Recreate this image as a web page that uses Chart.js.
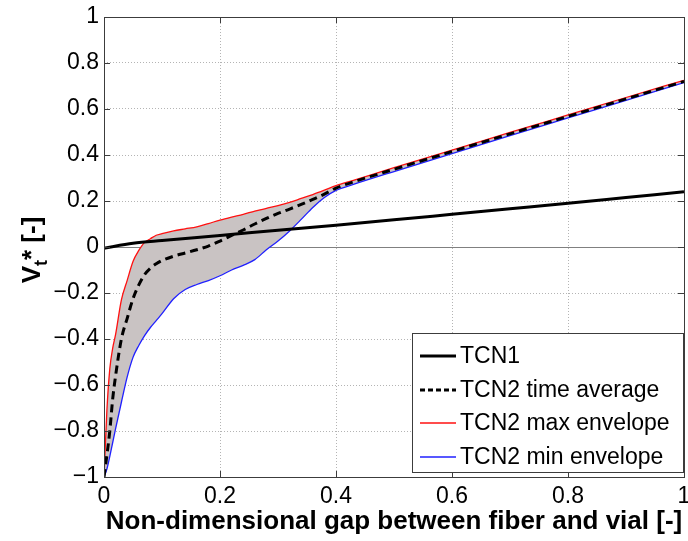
<!DOCTYPE html>
<html>
<head>
<meta charset="utf-8">
<script src="https://cdn.jsdelivr.net/npm/chart.js@4.4.0/dist/chart.umd.min.js"></script>
<style>
html,body{margin:0;padding:0;background:#fff;}
#wrap{width:688px;height:541px;position:relative;}
</style>
</head>
<body>
<div id="wrap"><canvas id="c" width="688" height="541"></canvas></div>
<script>
// ---------- data ----------
const xTickValues = [0, 0.2, 0.4, 0.6, 0.8, 1];
const yTickValues = [-1, -0.8, -0.6, -0.4, -0.2, 0, 0.2, 0.4, 0.6, 0.8, 1];
const seriesNames = ['TCN1', 'TCN2 time average', 'TCN2 max envelope', 'TCN2 min envelope'];
const xTitle = 'Non-dimensional gap between fiber and vial [-]';
const yTitleParts = ['V', 't', '* [-]'];

const tcn1X = [0, 0.05, 0.1, 0.2, 0.3, 0.4, 0.5, 0.6, 0.7, 0.8, 0.9, 1.0];
const tcn1Y = [-0.005, 0.016, 0.028, 0.05, 0.073, 0.095, 0.118, 0.142, 0.166, 0.19, 0.215, 0.24];

const gapX = [0, 0.005, 0.01, 0.015, 0.02, 0.03, 0.04, 0.05, 0.06, 0.07, 0.08, 0.09, 0.1, 0.12, 0.14, 0.16, 0.18,
              0.2, 0.22, 0.24, 0.26, 0.28, 0.3, 0.32, 0.34, 0.36, 0.38, 0.4, 0.43, 0.5, 0.6, 0.7, 0.8, 0.9, 1.0];
const avgY = [-1, -0.905, -0.8, -0.66, -0.56, -0.40, -0.31, -0.225, -0.165, -0.12, -0.092, -0.073, -0.059, -0.04, -0.026, -0.012, 0.004,
              0.026, 0.05, 0.074, 0.1, 0.124, 0.146, 0.165, 0.185, 0.207, 0.23, 0.256, 0.283, 0.338, 0.415, 0.492, 0.568, 0.644, 0.72];
const maxY = [-1, -0.71, -0.53, -0.44, -0.38, -0.23, -0.145, -0.063, -0.015, 0.02, 0.036, 0.051, 0.058, 0.07, 0.079, 0.088, 0.102,
              0.117, 0.13, 0.142, 0.156, 0.168, 0.18, 0.194, 0.211, 0.228, 0.247, 0.267, 0.29, 0.345, 0.421, 0.498, 0.574, 0.65, 0.725];
const minY = [-1, -0.965, -0.91, -0.85, -0.79, -0.675, -0.565, -0.48, -0.428, -0.385, -0.35, -0.32, -0.29, -0.225, -0.185, -0.163, -0.146,
              -0.125, -0.1, -0.08, -0.055, -0.012, 0.026, 0.07, 0.12, 0.172, 0.215, 0.246, 0.272, 0.328, 0.406, 0.484, 0.561, 0.638, 0.715];

// ---------- helpers ----------
const FONT = '"Liberation Sans", Arial, Helvetica, sans-serif';
const pts = (xs, ys) => xs.map((x, i) => ({x: x, y: ys[i]}));
const fmt = v => {
  if (Math.abs(v) < 1e-9) return '0';
  let s = Math.abs(v - Math.round(v)) < 1e-9 ? String(Math.round(Math.abs(v))) : Math.abs(v).toFixed(1);
  return (v < 0 ? '\u2212' : '') + s;
};

const overlay = {
  id: 'overlay',
  afterDatasetsDraw(chart) {
    const ctx = chart.ctx, a = chart.chartArea;
    const xs = chart.scales.x, ys = chart.scales.y;
    ctx.save();
    ctx.strokeStyle = '#3c3c3c';
    ctx.lineWidth = 1;
    const L = 6;
    ctx.beginPath();
    xs.ticks.forEach(t => {
      const px = Math.round(xs.getPixelForValue(t.value)) + 0.5;
      ctx.moveTo(px, a.bottom); ctx.lineTo(px, a.bottom - L);
      ctx.moveTo(px, a.top); ctx.lineTo(px, a.top + L);
    });
    ys.ticks.forEach(t => {
      const py = Math.round(ys.getPixelForValue(t.value)) + 0.5;
      ctx.moveTo(a.left, py); ctx.lineTo(a.left + L, py);
      ctx.moveTo(a.right, py); ctx.lineTo(a.right - L, py);
    });
    ctx.stroke();
    ctx.strokeRect(Math.round(a.left) + 0.5, Math.round(a.top) + 0.5, Math.round(a.right - a.left), Math.round(a.bottom - a.top));
    ctx.restore();
  },
  afterDraw(chart) {
    const ctx = chart.ctx;
    // legend
    const bx = 412, by = 333, bw = 271, bh = 139;
    ctx.save();
    ctx.fillStyle = '#fff';
    ctx.fillRect(bx, by, bw, bh);
    ctx.strokeStyle = '#3c3c3c';
    ctx.lineWidth = 1;
    ctx.strokeRect(bx + 0.5, by + 0.5, bw, bh);
    const rows = [356, 390, 423, 457];
    ctx.font = '23px ' + FONT;
    ctx.textBaseline = 'middle';
    ctx.textAlign = 'left';
    chart.data.datasets.forEach((ds, i) => {
      const y = rows[i];
      ctx.beginPath();
      ctx.strokeStyle = ds.borderColor;
      ctx.lineWidth = ds.borderWidth;
      ctx.setLineDash(ds.borderDash && ds.borderDash.length ? [5, 3] : []);
      ctx.moveTo(420, y); ctx.lineTo(456, y);
      ctx.stroke();
      ctx.setLineDash([]);
      ctx.fillStyle = '#000';
      ctx.fillText(ds.label, 460, y + 1);
    });
    ctx.restore();

    // y title with subscript
    ctx.save();
    ctx.translate(40, 250);
    ctx.rotate(-Math.PI / 2);
    ctx.fillStyle = '#000';
    ctx.textBaseline = 'alphabetic';
    ctx.textAlign = 'left';
    const big = 'bold 26px ' + FONT, small = 'bold 18px ' + FONT;
    ctx.font = big; const w0 = ctx.measureText(yTitleParts[0]).width;
    ctx.font = small; const w1 = ctx.measureText(yTitleParts[1]).width;
    ctx.font = big; const w2 = ctx.measureText(yTitleParts[2]).width;
    let x = -(w0 + w1 + w2) / 2;
    ctx.font = big; ctx.fillText(yTitleParts[0], x, 0); x += w0;
    ctx.font = small; ctx.fillText(yTitleParts[1], x, 7); x += w1;
    ctx.font = big; ctx.fillText(yTitleParts[2], x, 0);
    ctx.restore();
  }
};

new Chart(document.getElementById('c'), {
  type: 'line',
  data: {
    datasets: [
      { label: seriesNames[0], data: pts(tcn1X, tcn1Y), borderColor: '#000000', borderWidth: 3,
        pointRadius: 0, fill: false, cubicInterpolationMode: 'monotone' },
      { label: seriesNames[1], data: pts(gapX, avgY), borderColor: '#000000', borderWidth: 3, borderDash: [8, 5],
        pointRadius: 0, fill: false, cubicInterpolationMode: 'monotone' },
      { label: seriesNames[2], data: pts(gapX, maxY), borderColor: '#ff1010', borderWidth: 1.3,
        backgroundColor: 'rgb(201,195,195)', pointRadius: 0, fill: 3, cubicInterpolationMode: 'monotone' },
      { label: seriesNames[3], data: pts(gapX, minY), borderColor: '#2020ff', borderWidth: 1.3,
        pointRadius: 0, fill: false, cubicInterpolationMode: 'monotone' }
    ]
  },
  options: {
    responsive: false,
    animation: false,
    events: [],
    layout: { padding: { top: 17, right: 4, left: 0, bottom: 0 } },
    plugins: {
      legend: { display: false },
      tooltip: { enabled: false },
      filler: { drawTime: 'beforeDatasetsDraw' }
    },
    scales: {
      x: {
        type: 'linear', min: 0, max: 1,
        afterBuildTicks: s => { s.ticks = xTickValues.map(v => ({value: v})); },
        afterFit: s => { s.height = 64; s.paddingLeft = 0; s.paddingRight = 4; },
        ticks: { font: { family: FONT, size: 23 }, color: '#000', padding: 6, maxRotation: 0, autoSkip: false,
                 callback: v => fmt(v) },
        grid: { color: '#b4b4b4', lineWidth: 1, drawTicks: false },
        border: { display: false, dash: [1, 2] },
        title: { display: true, text: xTitle, color: '#000',
                 font: { family: FONT, size: 26, weight: 'bold' }, padding: { top: 0, bottom: 4 } }
      },
      y: {
        type: 'linear', min: -1, max: 1,
        afterBuildTicks: s => { s.ticks = yTickValues.map(v => ({value: v})); },
        afterFit: s => { s.width = 104; s.paddingTop = 0; s.paddingBottom = 0; },
        ticks: { font: { family: FONT, size: 23 }, color: '#000', padding: 5, autoSkip: false,
                 callback: v => fmt(v) },
        grid: { color: c => (c.tick && Math.abs(c.tick.value) < 1e-9) ? '#808080' : '#b4b4b4',
                lineWidth: 1, drawTicks: false },
        border: { display: false, dash: c => (c.tick && Math.abs(c.tick.value) < 1e-9) ? [] : [1, 2] }
      }
    }
  },
  plugins: [overlay]
});
</script>
</body>
</html>
